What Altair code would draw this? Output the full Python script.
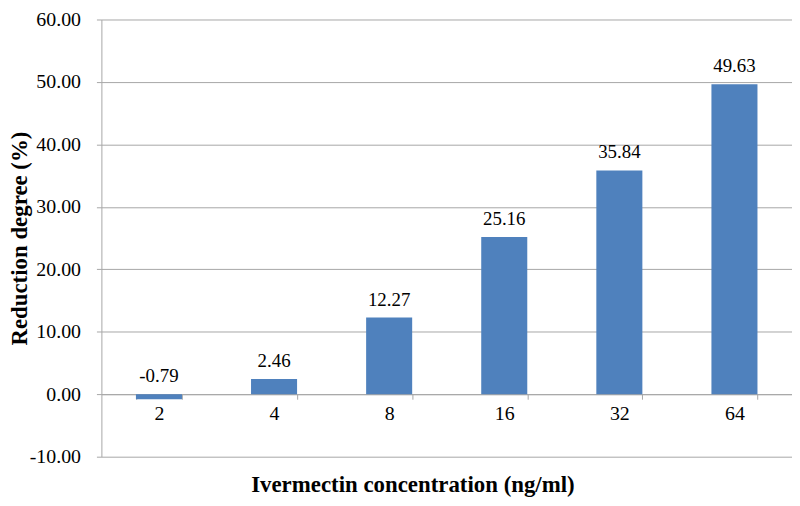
import altair as alt
import pandas as pd

concentrations = ["2", "4", "8", "16", "32", "64"]
reduction = [-0.79, 2.46, 12.27, 25.16, 35.84, 49.63]
y_ticks = [-10, 0, 10, 20, 30, 40, 50, 60]

df = pd.DataFrame({"conc": concentrations, "value": reduction})

W, H = 695, 440
FONT = "Liberation Serif"
GRID = "#a6a6a6"

x_enc = alt.X(
    "conc:N",
    sort=concentrations,
    scale=alt.Scale(paddingInner=0.6, paddingOuter=0.3),
    axis=alt.Axis(
        title="Ivermectin concentration (ng/ml)",
        labelAngle=0,
        labelFont=FONT,
        labelFontSize=20,
        labelColor="#000000",
        labelPadding=4,
        tickBand="extent",
        tickSize=5,
        tickColor=GRID,
        domainColor=GRID,
        offset=-(10 / 70) * H,
        titleFont=FONT,
        titleFontSize=23,
        titleFontWeight="bold",
        titleColor="#000000",
        titleY=80,
        titleX=313,
        titleAlign="center",
        titleBaseline="top",
    ),
)

y_scale = alt.Scale(domain=[-10, 60], nice=False, zero=False)

bars = alt.Chart(df).mark_bar(color="#4f81bd").encode(
    x=x_enc,
    y=alt.Y(
        "value:Q",
        scale=y_scale,
        axis=alt.Axis(
            values=y_ticks,
            labelExpr="replace(format(datum.value, '.2f'), '\u2212', '-')",
            title="Reduction degree (%)",
            labelFont=FONT,
            labelFontSize=20,
            labelColor="#000000",
            labelPadding=16,
            tickSize=5,
            tickColor=GRID,
            domainColor=GRID,
            gridColor=GRID,
            titleFont=FONT,
            titleFontSize=23,
            titleFontWeight="bold",
            titleColor="#000000",
            titleX=-82,
            titleBaseline="middle",
        ),
    ),
    y2=alt.datum(0),
)

labels = (
    alt.Chart(df)
    .transform_calculate(
        ypos="max(datum.value, 0)",
        txt="replace(format(datum.value, '.2f'), '\u2212', '-')",
    )
    .mark_text(font=FONT, fontSize=19, baseline="alphabetic", dy=-12, color="#000000")
    .encode(
        x=alt.X("conc:N", sort=concentrations),
        y=alt.Y("ypos:Q", scale=y_scale),
        text=alt.Text("txt:N"),
    )
)

chart = (
    alt.layer(bars, labels)
    .properties(
        width=W,
        height=H,
        autosize=alt.AutoSizeParams(type="none"),
        padding={"left": 94, "top": 10, "right": 0, "bottom": 40},
    )
    .configure_view(stroke=None)
    .configure_axis(labelFont=FONT, titleFont=FONT)
    .configure_text(font=FONT)
)

chart.save("out.html", embed_options={"renderer": "svg", "actions": False})
